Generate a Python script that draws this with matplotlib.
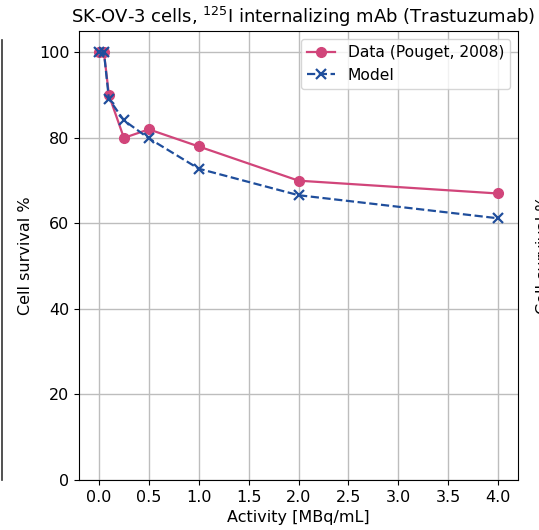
import matplotlib
matplotlib.use('Agg')
import matplotlib.pyplot as plt
from matplotlib.lines import Line2D

# measured survival, Pouget 2008
data_activity = [0.0, 0.05, 0.1, 0.25, 0.5, 1.0, 2.0, 4.0]
data_survival = [100, 100, 90, 80, 82, 78, 70, 67]

# model prediction
model_activity = [0.0, 0.05, 0.1, 0.25, 0.5, 1.0, 2.0, 4.0]
model_survival = [100, 100, 89.1, 84.1, 79.9, 72.8, 66.6, 61.2]

xticks = [0.0, 0.5, 1.0, 1.5, 2.0, 2.5, 3.0, 3.5, 4.0]

W, H = 539, 530
fig = plt.figure(figsize=(W / 100, H / 100), dpi=100)
ax = fig.add_axes([79 / W, 1 - 480 / H, (518 - 79) / W, (480 - 31) / H])

ax.plot(data_activity, data_survival, marker='o', color='#d1457a', lw=1.6,
        ms=7, label='Data (Pouget, 2008)')
ax.plot(model_activity, model_survival, marker='x', ls='--', color='#1f4e9c',
        lw=1.6, ms=7, mew=1.6, label='Model')

ax.set_xlim(-0.2, 4.2)
ax.set_ylim(0, 105)
ax.set_xticks(xticks)
ax.set_yticks([0, 20, 40, 60, 80, 100])
ax.tick_params(labelsize=11.5)
ax.grid(True, color='#bdbdbd', lw=1)
ax.set_axisbelow(True)
ax.set_xlabel('Activity [MBq/mL]', fontsize=11.5)
ax.set_ylabel('Cell survival %', fontsize=11.5)
ax.set_title('SK-OV-3 cells, $^{125}$I internalizing mAb (Trastuzumab)',
             fontsize=13, x=0.511)
ax.legend(loc='upper right', fontsize=11.2, handlelength=1.8)

# edges of neighbouring panels
fig.add_artist(Line2D([1.5 / W, 1.5 / W], [1 - 40 / H, 1 - 480 / H], color='#333333', lw=1.2))
fig.text(543 / W, 1 - 255 / H, 'Cell survival %', rotation=90, fontsize=11.5,
         ha='center', va='center')

fig.savefig('out.png', dpi=100)
